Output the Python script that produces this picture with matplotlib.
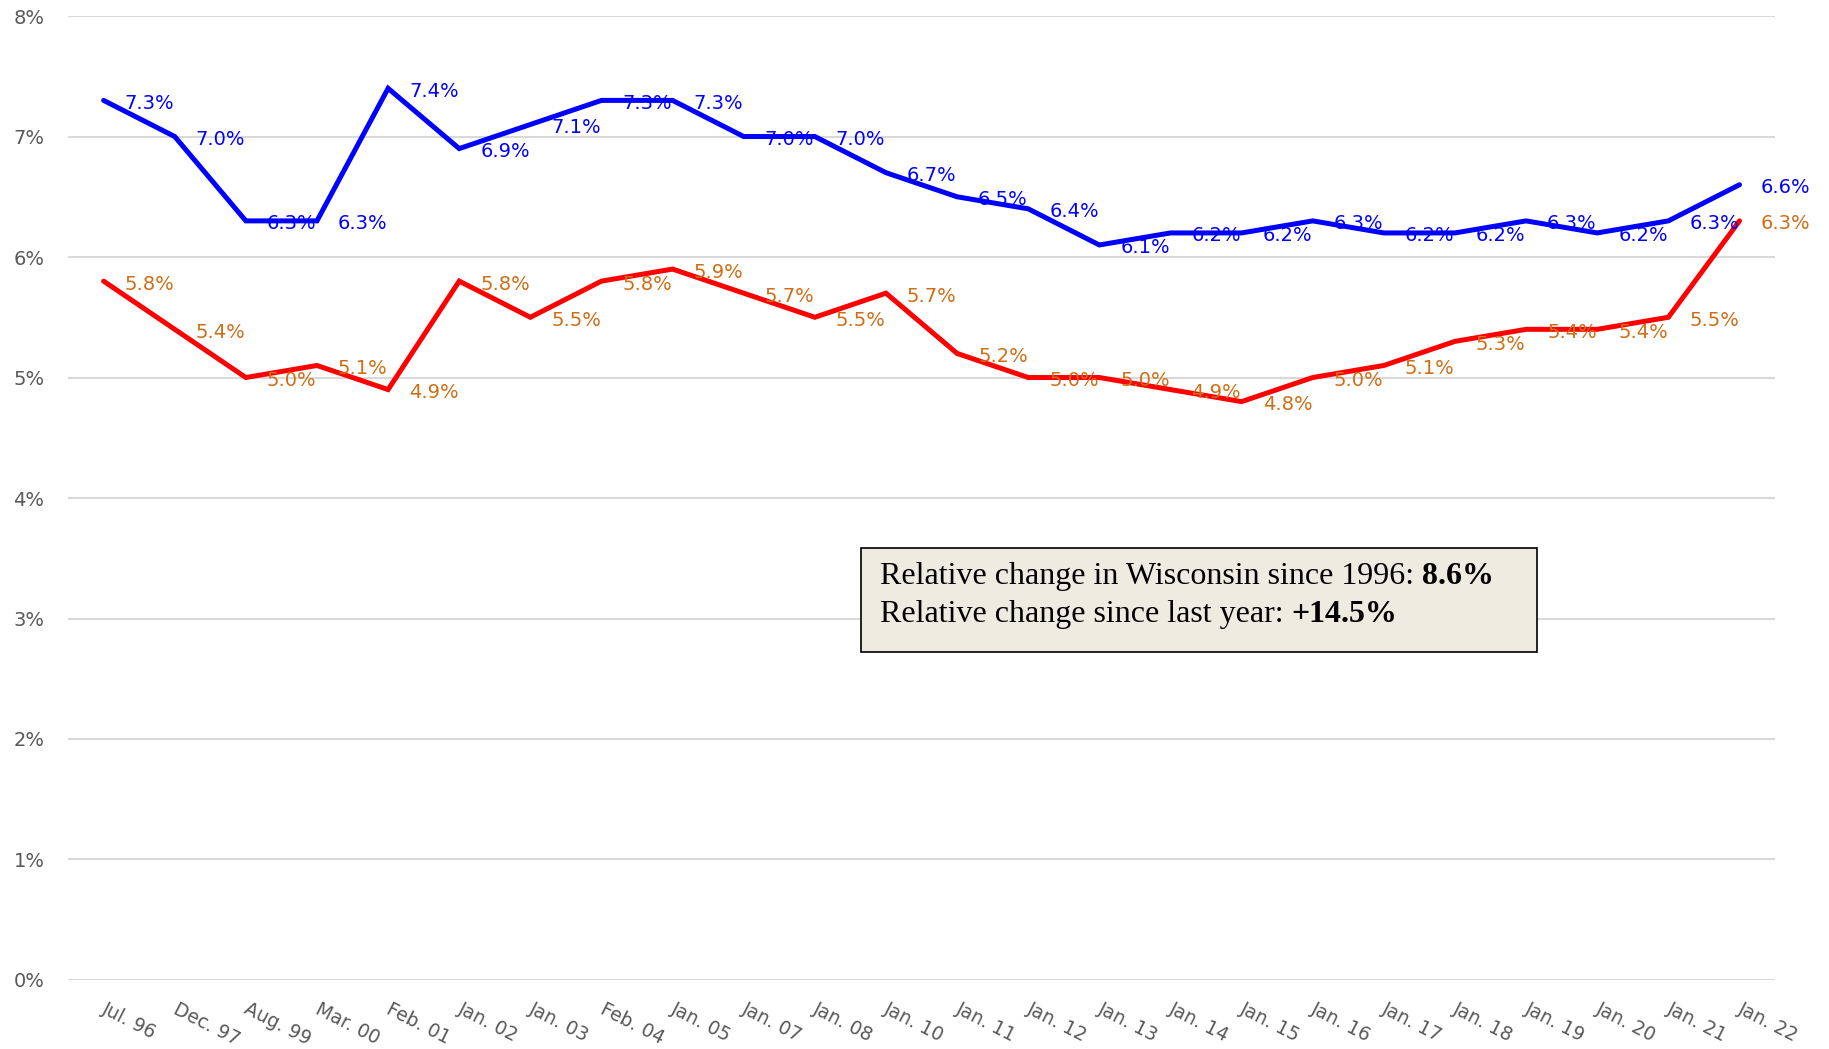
"""Wisconsin rate comparison, Jul. 96 to Jan. 22, with a relative-change note."""
import matplotlib
matplotlib.use("Agg")
import matplotlib.pyplot as plt  # noqa: E402
from matplotlib.patches import Rectangle  # noqa: E402
from matplotlib.ticker import FuncFormatter  # noqa: E402
from matplotlib.transforms import ScaledTranslation  # noqa: E402

periods = ["Jul. 96", "Dec. 97", "Aug. 99", "Mar. 00", "Feb. 01", "Jan. 02", "Jan. 03",
           "Feb. 04", "Jan. 05", "Jan. 07", "Jan. 08", "Jan. 10", "Jan. 11", "Jan. 12",
           "Jan. 13", "Jan. 14", "Jan. 15", "Jan. 16", "Jan. 17", "Jan. 18", "Jan. 19",
           "Jan. 20", "Jan. 21", "Jan. 22"]
blue_vals = [7.3, 7.0, 6.3, 6.3, 7.4, 6.9, 7.1, 7.3, 7.3, 7.0, 7.0, 6.7, 6.5, 6.4,
             6.1, 6.2, 6.2, 6.3, 6.2, 6.2, 6.3, 6.2, 6.3, 6.6]
red_vals = [5.8, 5.4, 5.0, 5.1, 4.9, 5.8, 5.5, 5.8, 5.9, 5.7, 5.5, 5.7, 5.2, 5.0,
            5.0, 4.9, 4.8, 5.0, 5.1, 5.3, 5.4, 5.4, 5.5, 6.3]
y_ticks = [0, 1, 2, 3, 4, 5, 6, 7, 8]
note_lines = [("Relative change in Wisconsin since 1996: ", "8.6%"),
              ("Relative change since last year: ", "+14.5%")]

GRAY = "#595959"
ORANGE = "#CF6E16"

fig = plt.figure(figsize=(18.29, 10.49), dpi=100)
ax = fig.add_axes([0.0372, 0.0658, 0.9333, 0.9189])
x = list(range(len(periods)))

for vals, line_c, lab_c in [(blue_vals, "#0000FF", "#0000FF"), (red_vals, "#FF0000", ORANGE)]:
    ax.plot(x, vals, color=line_c, lw=3.6, solid_capstyle="round", solid_joinstyle="miter", zorder=3)
    for xi, v in zip(x, vals):
        ax.annotate(f"{v:.1f}%", (xi, v), xytext=(21, -3), textcoords="offset pixels",
                    ha="left", va="center", fontsize=14, color=lab_c, zorder=4)

ax.set_xlim(-0.5, len(periods) - 0.5)
ax.set_ylim(0, 8)
ax.set_yticks(y_ticks)
ax.yaxis.set_major_formatter(FuncFormatter(lambda v, _: f"{v:.0f}%"))
ax.grid(axis="y", color="#D9D9D9", lw=1.5, zorder=0)
ax.set_xticks(x)
ax.set_xticklabels(periods, rotation=-27, ha="left", va="top", rotation_mode="anchor")
ax.tick_params(axis="x", length=0, pad=14, labelsize=13.5, labelcolor=GRAY)
ax.tick_params(axis="y", length=0, pad=17, labelsize=14, labelcolor=GRAY)
shift = ScaledTranslation(4 / 100, 0, fig.dpi_scale_trans)
for lab in ax.get_xticklabels():
    lab.set_transform(lab.get_transform() + shift)
for s in ax.spines.values():
    s.set_visible(False)

# note box
ax.add_patch(Rectangle((0.4646, 0.340), 0.396, 0.108, transform=ax.transAxes,
                       facecolor="#EEEBE0", edgecolor="black", lw=1.2, zorder=5))
for i, (plain, bold) in enumerate(note_lines):
    t = ax.text(0.4755, 0.419 - i * 0.0395, plain, transform=ax.transAxes, fontsize=23,
                family="Liberation Serif", ha="left", va="center", zorder=6)
    ax.annotate(bold, xy=(1, 0), xycoords=t, ha="left", va="bottom", fontsize=23,
                family="Liberation Serif", weight="bold", zorder=6)

fig.savefig("out.png", dpi=100)
plt.close(fig)
